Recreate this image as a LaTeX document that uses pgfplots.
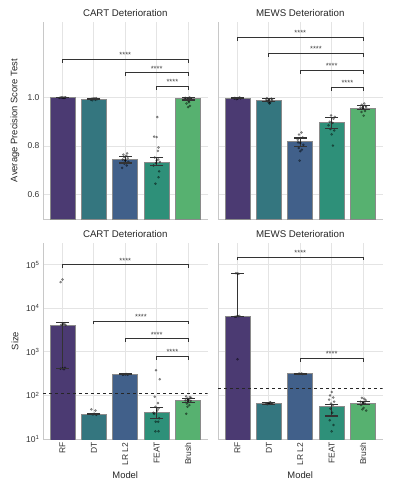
\documentclass[border=0pt]{standalone}
\usepackage{pgfplots}
\pgfplotsset{compat=1.18}
\usepackage{fontspec}
\setmainfont{Liberation Sans}

\definecolor{cRF}{HTML}{4B3A72}
\definecolor{cDT}{HTML}{34767F}
\definecolor{cLR}{HTML}{41608A}
\definecolor{cFEAT}{HTML}{2E9079}
\definecolor{cBrush}{HTML}{57B170}
\definecolor{edge}{HTML}{8A8A8A}
\definecolor{gridc}{HTML}{E4E4E4}
\definecolor{spine}{HTML}{C8C8C8}
\definecolor{errc}{HTML}{333333}

% one bar per model, all at their own x
\newcommand{\fivebars}[5]{%
  \addplot[ybar, bar width=25pt, bar shift=0pt, fill=cRF, draw=edge, line width=0.9pt] coordinates {(0,#1)};
  \addplot[ybar, bar width=25pt, bar shift=0pt, fill=cDT, draw=edge, line width=0.9pt] coordinates {(1,#2)};
  \addplot[ybar, bar width=25pt, bar shift=0pt, fill=cLR, draw=edge, line width=0.9pt] coordinates {(2,#3)};
  \addplot[ybar, bar width=25pt, bar shift=0pt, fill=cFEAT, draw=edge, line width=0.9pt] coordinates {(3,#4)};
  \addplot[ybar, bar width=25pt, bar shift=0pt, fill=cBrush, draw=edge, line width=0.9pt] coordinates {(4,#5)};
}

\tikzset{stars/.style={anchor=south, inner sep=1.5pt, font=\fontsize{7.5}{9}\selectfont, text=black!75}}

\pgfplotsset{
  panel/.style={
    scale only axis,
    width=164.5pt,
    xmin=-0.62, xmax=4.62,
    xtick={0,1,2,3,4},
    axis x line*=bottom,
    axis y line*=left,
    axis line style={spine, line width=0.8pt},
    grid=major,
    major grid style={gridc, line width=0.8pt},
    major tick length=0pt,
    minor tick length=0pt,
    ticklabel style={font=\fontsize{8.5}{10}\selectfont, text=black!80},
    title style={font=\fontsize{9.7}{11}\selectfont, text=black!85, yshift=-4pt},
    label style={font=\fontsize{9.4}{11}\selectfont, text=black!85},
    ylabel style={at={(axis description cs:-0.17,0.5)}, anchor=center},
    xlabel style={at={(axis description cs:0.5,-0.184)}, anchor=center},
  },
  pts/.style={only marks, mark=*, mark size=1.1pt, black, opacity=0.38},
  errs/.style={errc, line width=1.3pt, mark=-, mark size=6.5pt,
    mark options={solid, line width=1.3pt}, unbounded coords=jump},
  brk/.style={black!80, line width=0.8pt},
}

\begin{document}
\begin{tikzpicture}
\useasboundingbox (0,0) rectangle (394pt,-492pt);

% ---------- CART, average precision ----------
\begin{axis}[panel, height=197pt, ymin=0.5, ymax=1.31,
  ytick={0.6,0.8,1.0}, xticklabels={},
  yticklabels={0.6,0.8,1.0},
  at={(43pt,-219pt)}, anchor=south west,
  title={CART Deterioration}, ylabel={Average Precision Score Test}]
\fivebars{1.0}{0.993}{0.744}{0.733}{0.996}
\addplot[pts] coordinates {
  (-0.05,1.0) (0.03,0.999) (0.08,1.0) (-0.1,0.998) (0.1,1.0) (0.0,0.999) (-0.02,1.0) (0.05,0.998)
  (0.92,0.994) (1.05,0.99) (0.98,0.996) (1.1,0.992) (0.95,0.988) (1.02,0.995) (0.9,0.991) (1.07,0.997)
  (1.9,0.71) (2.05,0.72) (1.95,0.73) (2.1,0.735) (2.0,0.74) (1.92,0.745) (2.08,0.75) (1.97,0.755)
  (2.03,0.76) (1.94,0.765) (2.06,0.77) (2.0,0.742) (1.98,0.728)
  (3.02,0.919) (2.92,0.839) (3.0,0.837) (3.06,0.794) (3.04,0.78) (2.94,0.753) (3.05,0.745) (3.1,0.735)
  (2.9,0.72) (2.98,0.73) (3.08,0.696) (3.06,0.672) (2.96,0.645) (3.0,0.74)
  (3.92,0.998) (4.05,1.0) (3.97,0.99) (4.08,0.995) (4.02,0.985) (3.95,0.975) (4.06,0.965) (4.0,0.96)
  (4.1,0.992) (3.9,0.997) (4.03,0.98)
};
\addplot[errs] coordinates {
  (0,0.999) (0,1.0) (0,nan)
  (1,0.990) (1,0.996) (1,nan)
  (2,0.730) (2,0.757) (2,nan)
  (3,0.720) (3,0.753) (3,nan)
  (4,0.989) (4,0.9985)
};
\addplot[brk] coordinates {(0,1.142) (0,1.156) (4,1.156) (4,1.142)};
\addplot[brk] coordinates {(2,1.087) (2,1.101) (4,1.101) (4,1.087)};
\addplot[brk] coordinates {(3,1.032) (3,1.046) (4,1.046) (4,1.032)};
\node[stars] at (axis cs:2,1.156) {****};
\node[stars] at (axis cs:3,1.101) {****};
\node[stars] at (axis cs:3.5,1.046) {****};
\end{axis}

% ---------- MEWS, average precision ----------
\begin{axis}[panel, height=197pt, ymin=0.5, ymax=1.31,
  ytick={0.6,0.8,1.0}, xticklabels={}, yticklabels={},
  at={(218pt,-219pt)}, anchor=south west,
  title={MEWS Deterioration}]
\fivebars{0.996}{0.989}{0.819}{0.897}{0.956}
\addplot[pts] coordinates {
  (-0.08,0.998) (0.0,0.995) (0.07,1.0) (0.1,0.996) (-0.03,0.993) (0.04,0.997) (-0.1,0.995)
  (0.92,0.99) (1.0,0.98) (1.08,0.995) (0.96,0.985) (1.04,0.978) (1.1,0.99) (0.94,0.997) (1.02,0.975)
  (2.04,0.856) (1.96,0.847) (2.08,0.835) (1.92,0.826) (2.0,0.813) (2.1,0.805) (1.95,0.792)
  (2.05,0.785) (2.0,0.779) (1.93,0.815) (1.98,0.74)
  (2.98,0.926) (3.06,0.912) (2.94,0.90) (3.03,0.895) (2.9,0.885) (3.08,0.864) (3.0,0.848)
  (2.96,0.87) (3.04,0.802) (3.1,0.92)
  (4.04,0.975) (3.96,0.97) (4.08,0.965) (3.92,0.958) (4.0,0.952) (4.06,0.944) (3.95,0.94)
  (4.02,0.925) (4.1,0.96)
};
\addplot[errs] coordinates {
  (0,0.995) (0,0.998) (0,nan)
  (1,0.982) (1,0.995) (1,nan)
  (2,0.798) (2,0.833) (2,nan)
  (3,0.871) (3,0.917) (3,nan)
  (4,0.949) (4,0.967)
};
\addplot[brk] coordinates {(0,1.232) (0,1.246) (4,1.246) (4,1.232)};
\addplot[brk] coordinates {(1,1.167) (1,1.181) (4,1.181) (4,1.167)};
\addplot[brk] coordinates {(2,1.098) (2,1.112) (4,1.112) (4,1.098)};
\addplot[brk] coordinates {(3,1.027) (3,1.041) (4,1.041) (4,1.027)};
\node[stars] at (axis cs:2,1.246) {****};
\node[stars] at (axis cs:2.5,1.181) {****};
\node[stars] at (axis cs:3,1.112) {****};
\node[stars] at (axis cs:3.5,1.041) {****};
\end{axis}

% ---------- CART, size ----------
\begin{axis}[panel, ymode=log, height=196pt, ymin=10, ymax=316228,
  ytick={10,100,1000,10000,100000},
  yticklabels={10\textsuperscript{1},10\textsuperscript{2},10\textsuperscript{3},10\textsuperscript{4},10\textsuperscript{5}},
  xticklabels={RF,DT,LR L2,FEAT,Brush},
  xticklabel style={rotate=90, anchor=east},
  at={(43pt,-439pt)}, anchor=south west,
  title={CART Deterioration}, ylabel={Size}, xlabel={Model}]
\fivebars{4100}{37}{305}{40}{76}
\addplot[black!85, dashed, line width=0.9pt] coordinates {(-0.62,112) (4.62,112)};
\addplot[pts] coordinates {
  (0.0,46000) (-0.06,40000) (0.02,4300) (-0.04,4200) (0.06,4400) (0.1,4100)
  (0.0,420) (-0.06,410) (0.05,400) (0.08,430)
  (0.92,48) (1.05,45) (0.98,37) (1.02,38) (1.08,36) (0.95,37)
  (1.95,305) (2.03,310) (2.08,300) (1.92,300) (2.0,302)
  (2.98,380) (3.1,235) (2.94,93) (3.04,67) (2.96,55) (3.06,50) (3.02,45) (2.92,38)
  (3.08,30) (2.97,25) (3.05,25) (2.96,15) (3.06,15) (2.9,40)
  (3.94,95) (4.06,92) (4.1,88) (3.98,85) (4.02,80) (3.92,78) (4.08,75) (4.0,70)
  (3.96,65) (4.04,60) (3.98,55) (3.94,38)
};
\addplot[errs] coordinates {
  (0,417) (0,4650) (0,nan)
  (1,36) (1,38) (1,nan)
  (2,300) (2,312) (2,nan)
  (3,30) (3,53) (3,nan)
  (4,68) (4,86)
};
\addplot[brk] coordinates {(0,84000) (0,100000) (4,100000) (4,84000)};
\addplot[brk] coordinates {(1,4300) (1,5100) (4,5100) (4,4300)};
\addplot[brk] coordinates {(2,1680) (2,2000) (4,2000) (4,1680)};
\addplot[brk] coordinates {(3,655) (3,780) (4,780) (4,655)};
\node[stars] at (axis cs:2,100000) {****};
\node[stars] at (axis cs:2.5,5100) {****};
\node[stars] at (axis cs:3,2000) {****};
\node[stars] at (axis cs:3.5,780) {****};
\end{axis}

% ---------- MEWS, size ----------
\begin{axis}[panel, ymode=log, height=196pt, ymin=10, ymax=316228,
  ytick={10,100,1000,10000,100000}, yticklabels={},
  xticklabels={RF,DT,LR L2,FEAT,Brush},
  xticklabel style={rotate=90, anchor=east},
  at={(218pt,-439pt)}, anchor=south west,
  title={MEWS Deterioration}, xlabel={Model}]
\fivebars{6600}{66}{315}{55}{66}
\addplot[black!85, dashed, line width=0.9pt] coordinates {(-0.62,141) (4.62,141)};
\addplot[pts] coordinates {
  (0.0,63000) (-0.05,64000) (0.04,62000) (0.02,6600) (-0.04,6500) (0.06,6700) (-0.08,6400) (0.0,680)
  (0.92,64) (1.0,66) (1.06,68) (1.1,65) (0.96,63) (1.04,70)
  (1.95,315) (2.04,318) (2.08,312) (1.98,316)
  (3.0,120) (2.95,100) (3.05,90) (2.92,80) (3.08,72) (2.98,65) (3.04,60) (2.96,50)
  (3.02,40) (2.94,27) (3.06,21) (3.0,15)
  (3.96,88) (4.04,84) (4.08,78) (3.92,72) (4.0,70) (4.06,66) (3.94,60) (4.02,52) (3.98,48) (4.1,45)
};
\addplot[errs] coordinates {
  (0,6500) (0,63000) (0,nan)
  (1,63) (1,69) (1,nan)
  (2,310) (2,320) (2,nan)
  (3,34) (3,63) (3,nan)
  (4,62) (4,72)
};
\addplot[brk] coordinates {(0,126000) (0,150000) (4,150000) (4,126000)};
\addplot[brk] coordinates {(2,596) (2,710) (4,710) (4,596)};
\node[stars] at (axis cs:2,150000) {****};
\node[stars] at (axis cs:3,710) {****};
\end{axis}
\end{tikzpicture}
\end{document}
